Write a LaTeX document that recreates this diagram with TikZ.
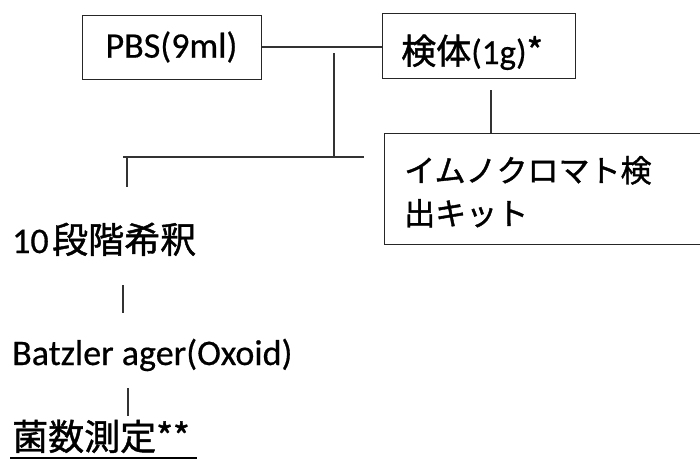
\documentclass[tikz,border=0pt]{standalone}
\usepackage{fontspec}
\setmainfont[FakeBold=0.5]{Carlito}
\newfontfamily\jp[FakeBold=1.2]{Noto Sans CJK JP}
\begin{document}
\begin{tikzpicture}[x=1pt,y=-1pt,
  box/.style={draw=black!85,line width=1pt,inner sep=0pt},
  lbl/.style={font=\fontsize{36}{40}\selectfont,inner sep=0pt,text=black},
  kitlbl/.style={font=\fontsize{31}{36}\selectfont,inner sep=0pt,text=black},
  conn/.style={draw=black!80,line width=1.1pt}]
\useasboundingbox (0,0) rectangle (700,459);
\clip (0,0) rectangle (700,459);
\fill[white] (0,0) rectangle (700,459);
% boxes
\node[box,minimum width=179pt,minimum height=64pt] (pbs) at (171.5,47) {};
\node[lbl] (pbst) at (pbs.center) {PBS(9ml)};
\node[box,minimum width=193pt,minimum height=65pt] (sample) at (478.5,45.5) {};
\node[lbl,anchor=base west,font=\fontsize{35}{40}\selectfont] (samplet) at (401,64) {{\jp 検体}(1g){\jp *}};
\node[box,anchor=north west,minimum width=340pt,minimum height=111pt] (kit) at (384,133) {};
\node[kitlbl,anchor=base west] (kit1) at (404,182) {\jp イムノクロマト検};
\node[kitlbl,anchor=base west] (kit2) at (404,225) {\jp 出キット};
% plain texts
\node[lbl,anchor=base west] (dil) at (12,253) {10\kern3.5pt{\jp 段階希釈}};
\node[lbl,anchor=base west] (agar) at (12,365) {Batzler ager(Oxoid)};
\node[lbl,anchor=base west] (count) at (12,450) {{\jp 菌数測定**}};
% coordinates
\coordinate (v1top) at (334,53);
\coordinate (hL) at (123,157);
\coordinate (hR) at (364,157);
\coordinate (v1bot) at (334,157);
\coordinate (d1) at (127,157);
\coordinate (d1b) at (127,187);
\coordinate (s1) at (491,90);
\coordinate (a1) at (123,285);
\coordinate (a1b) at (123,313);
\coordinate (c1) at (128,388);
\coordinate (c1b) at (128,416);
\coordinate (ulL) at (10,458);
\coordinate (ulR) at (197,458);
% connectors
\draw[conn] (pbs.east) -- (sample.west |- pbs.east);
\draw[conn] (v1top) -- (v1bot);
\draw[conn] (hL) -- (hR);
\draw[conn] (d1) -- (d1b);
\draw[conn] (s1) -- (s1 |- kit.north);
\draw[conn] (a1) -- (a1b);
\draw[conn] (c1) -- (c1b);
\draw[line width=1.3pt,black] (ulL) -- (ulR);
\end{tikzpicture}
\end{document}
